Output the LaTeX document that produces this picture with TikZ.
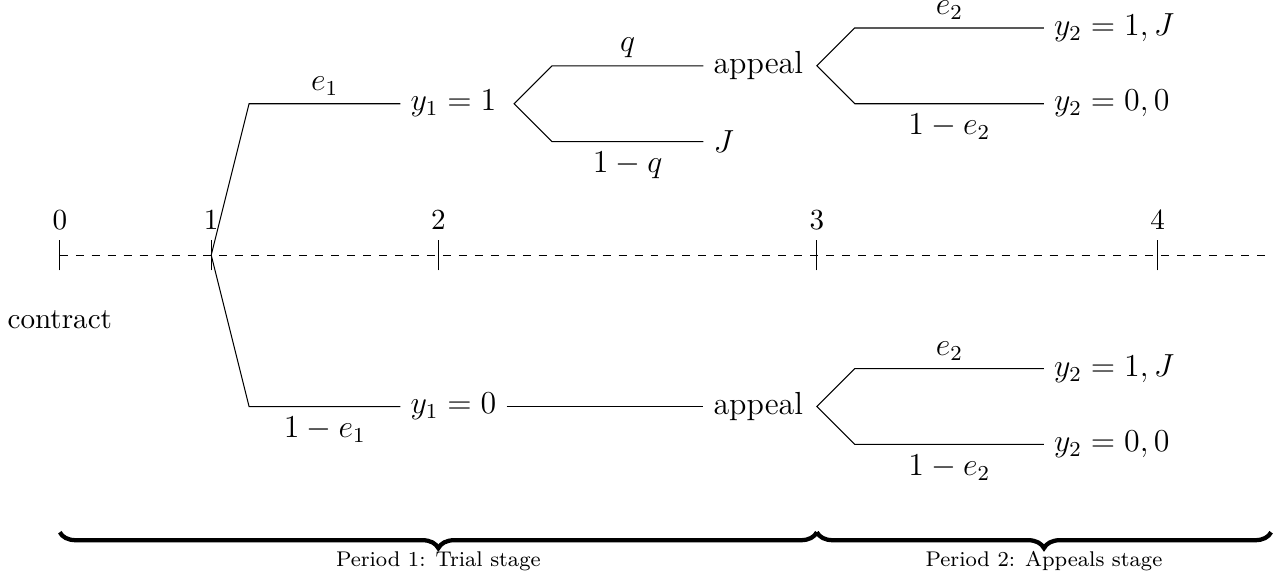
\documentclass[11pt,tikz,border=0pt]{standalone}
\usetikzlibrary{positioning,decorations.pathreplacing}

\begin{document}
\begin{tikzpicture}[every node/.style={align=center},
    leaf/.style={font=\large, right},
    prob/.style={font=\large},
    probup/.style={font=\large, above, inner sep=2.9pt},
    stagebrace/.style={decorate, decoration={brace, mirror, amplitude=6pt}, ultra thick}]
    \useasboundingbox (-0.79,-4.33) rectangle (16.21,3.37);

    % time line
    \draw[dashed] (0,0) -- (16,0);
    \foreach \x/\t in {0/0,2/1,5/2,10/3,14.5/4}
        \draw (\x,-0.2) -- (\x,0.2) node[above] (tick\t) {\t};
    \node (contract) at (0,-0.85) {contract};

    % period 1
    \coordinate (t1) at (2,0);
    \node[leaf] (y1up) at (4.5,2) {$y_1=1$};
    \node[leaf] (y1dn) at (4.5,-2) {$y_1=0$};
    \draw (t1) -- (2.5,2) -- node[probup] {$e_1$} (y1up.west);
    \draw (t1) -- (2.5,-2) -- node[below, prob] {$1-e_1$} (y1dn.west);

    \coordinate (f1) at (6,2);
    \node[leaf] (app1) at (8.5,2.5) {appeal};
    \node[leaf] (jdg) at (8.5,1.5) {$J$};
    \draw (app1.west) -- node[probup] {$q$} (6.5,2.5) -- (f1) -- (6.5,1.5) -- node[below, prob] {$1-q$} (jdg.west);

    \node[leaf] (app2) at (8.5,-2) {appeal};
    \draw (y1dn) -- (app2);

    % period 2
    \coordinate (f2) at (10,2.5);
    \node[leaf] (y2a) at (13,3) {$y_2=1,J$};
    \node[leaf] (y2b) at (13,2) {$y_2=0,0$};
    \draw (y2a.west) -- node[probup] {$e_2$} (10.5,3) -- (f2) -- (10.5,2) -- node[below, prob] {$1-e_2$} (y2b.west);

    \coordinate (f3) at (10,-2);
    \node[leaf] (y2c) at (13,-1.5) {$y_2=1,J$};
    \node[leaf] (y2d) at (13,-2.5) {$y_2=0,0$};
    \draw (y2c.west) -- node[probup] {$e_2$} (10.5,-1.5) -- (f3) -- (10.5,-2.5) -- node[below, prob] {$1-e_2$} (y2d.west);

    % stages
    \coordinate (b0) at (0,-3.66);
    \coordinate (b1) at (10,-3.66);
    \coordinate (b2) at (16,-3.66);
    \draw[stagebrace] (b0) -- (b1);
    \draw[stagebrace] (b1) -- (b2);
    \node[font=\scriptsize] (per1) at (5,-4.04) {Period 1: Trial stage};
    \node[font=\scriptsize] (per2) at (13,-4.04) {Period 2: Appeals stage};
\end{tikzpicture}
\end{document}
